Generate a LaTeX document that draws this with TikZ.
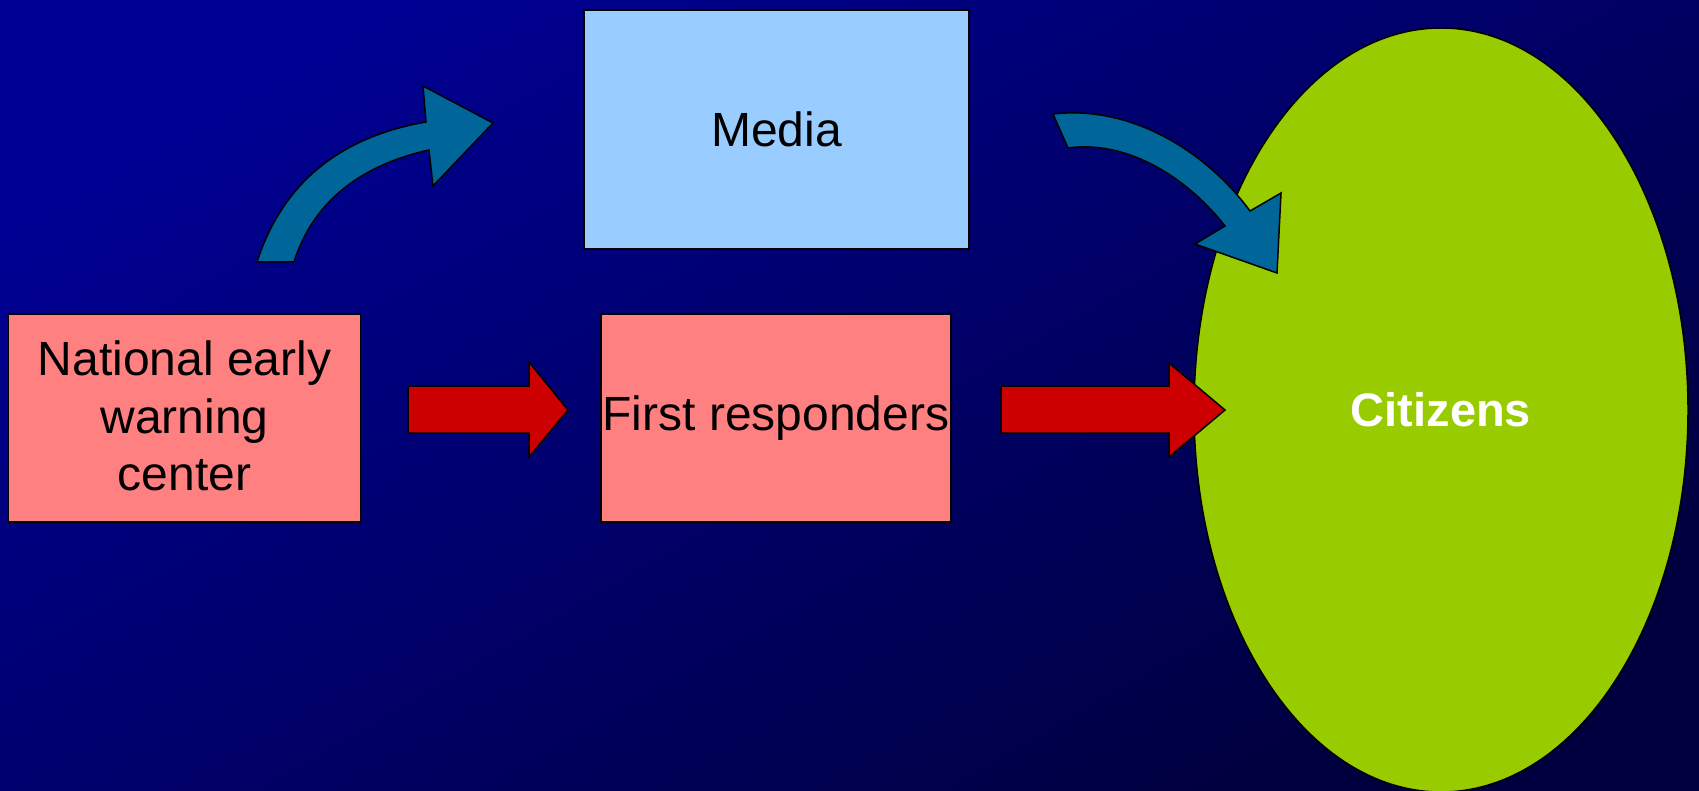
\documentclass[tikz,border=0pt]{standalone}
\usepackage{fontspec}
\setmainfont{Liberation Sans}
\usetikzlibrary{shapes.geometric}
\definecolor{bgUL}{RGB}{0,0,146}
\definecolor{bgMid}{RGB}{0,0,104}
\definecolor{bgLR}{RGB}{0,0,62}
\definecolor{boxRed}{RGB}{255,128,128}
\definecolor{boxBlue}{RGB}{153,204,255}
\definecolor{citGreen}{RGB}{153,204,0}
\definecolor{arrRed}{RGB}{204,0,0}
\definecolor{arrTeal}{RGB}{0,102,153}
\tikzset{
  boxnode/.style={draw=black, line width=1.5pt, rectangle, inner sep=0pt,
    align=center, font=\fontsize{48}{57.5}\selectfont, text=black},
  blockarrow/.style={draw=black, line width=1.5pt, fill=arrRed, line join=miter},
  curvedarrow/.style={draw=black, line width=1.5pt, fill=arrTeal, line join=miter},
}
\begin{document}
\begin{tikzpicture}[x=1pt, y=-1pt]
  \useasboundingbox (0,0) rectangle (1699,791);
  % background
  \shade[top color=bgUL, middle color=bgMid, bottom color=bgLR, shading angle=30]
    (0,0) rectangle (1699,791);

  % citizens ellipse
  \node[ellipse, draw=black, line width=1.5pt, fill=citGreen,
        minimum width=494pt, minimum height=764pt, inner sep=0pt,
        font=\fontsize{47}{56}\selectfont\bfseries, text=white]
        (cit) at (1441,410) {Citizens};

  % boxes
  \node[boxnode, fill=boxRed, minimum width=352pt, minimum height=208pt,
        text depth=4pt]
        (new) at (184.5,418) {National early\\warning\\center};
  \node[boxnode, fill=boxBlue, minimum width=385pt, minimum height=239pt]
        (media) at (776.5,129.5) {Media};
  \node[boxnode, fill=boxRed, minimum width=350pt, minimum height=208pt]
        (first) at (776,418) {First responders};

  % straight block arrows
  \coordinate (a1) at (408,410);
  \coordinate (a2) at (1001,410);
  \draw[blockarrow] (a1) ++(0,-24) -- ++(121,0) -- ++(0,-24) -- (568,410)
    -- (529,457) -- ++(0,-24) -- ++(-121,0) -- cycle;
  \draw[blockarrow] (a2) ++(0,-24) -- ++(168,0) -- ++(0,-23) -- (1225,410)
    -- (1169,457) -- ++(0,-24) -- ++(-168,0) -- cycle;

  % curved arrow towards the media
  \draw[curvedarrow] (257,262) .. controls (285,175) and (350,135) .. (426,122)
    -- (423,86) -- (493,123) -- (433,186) -- (429,150)
    .. controls (370,163) and (315,195) .. (294,262) -- cycle;

  % curved arrow from the media to the citizens
  \draw[curvedarrow] (1053,114) .. controls (1130,105) and (1205,150) .. (1250,211)
    -- (1281,193) -- (1277,273) -- (1195,244) -- (1225,226)
    .. controls (1185,175) and (1125,140) .. (1068,148) -- cycle;
\end{tikzpicture}
\end{document}
